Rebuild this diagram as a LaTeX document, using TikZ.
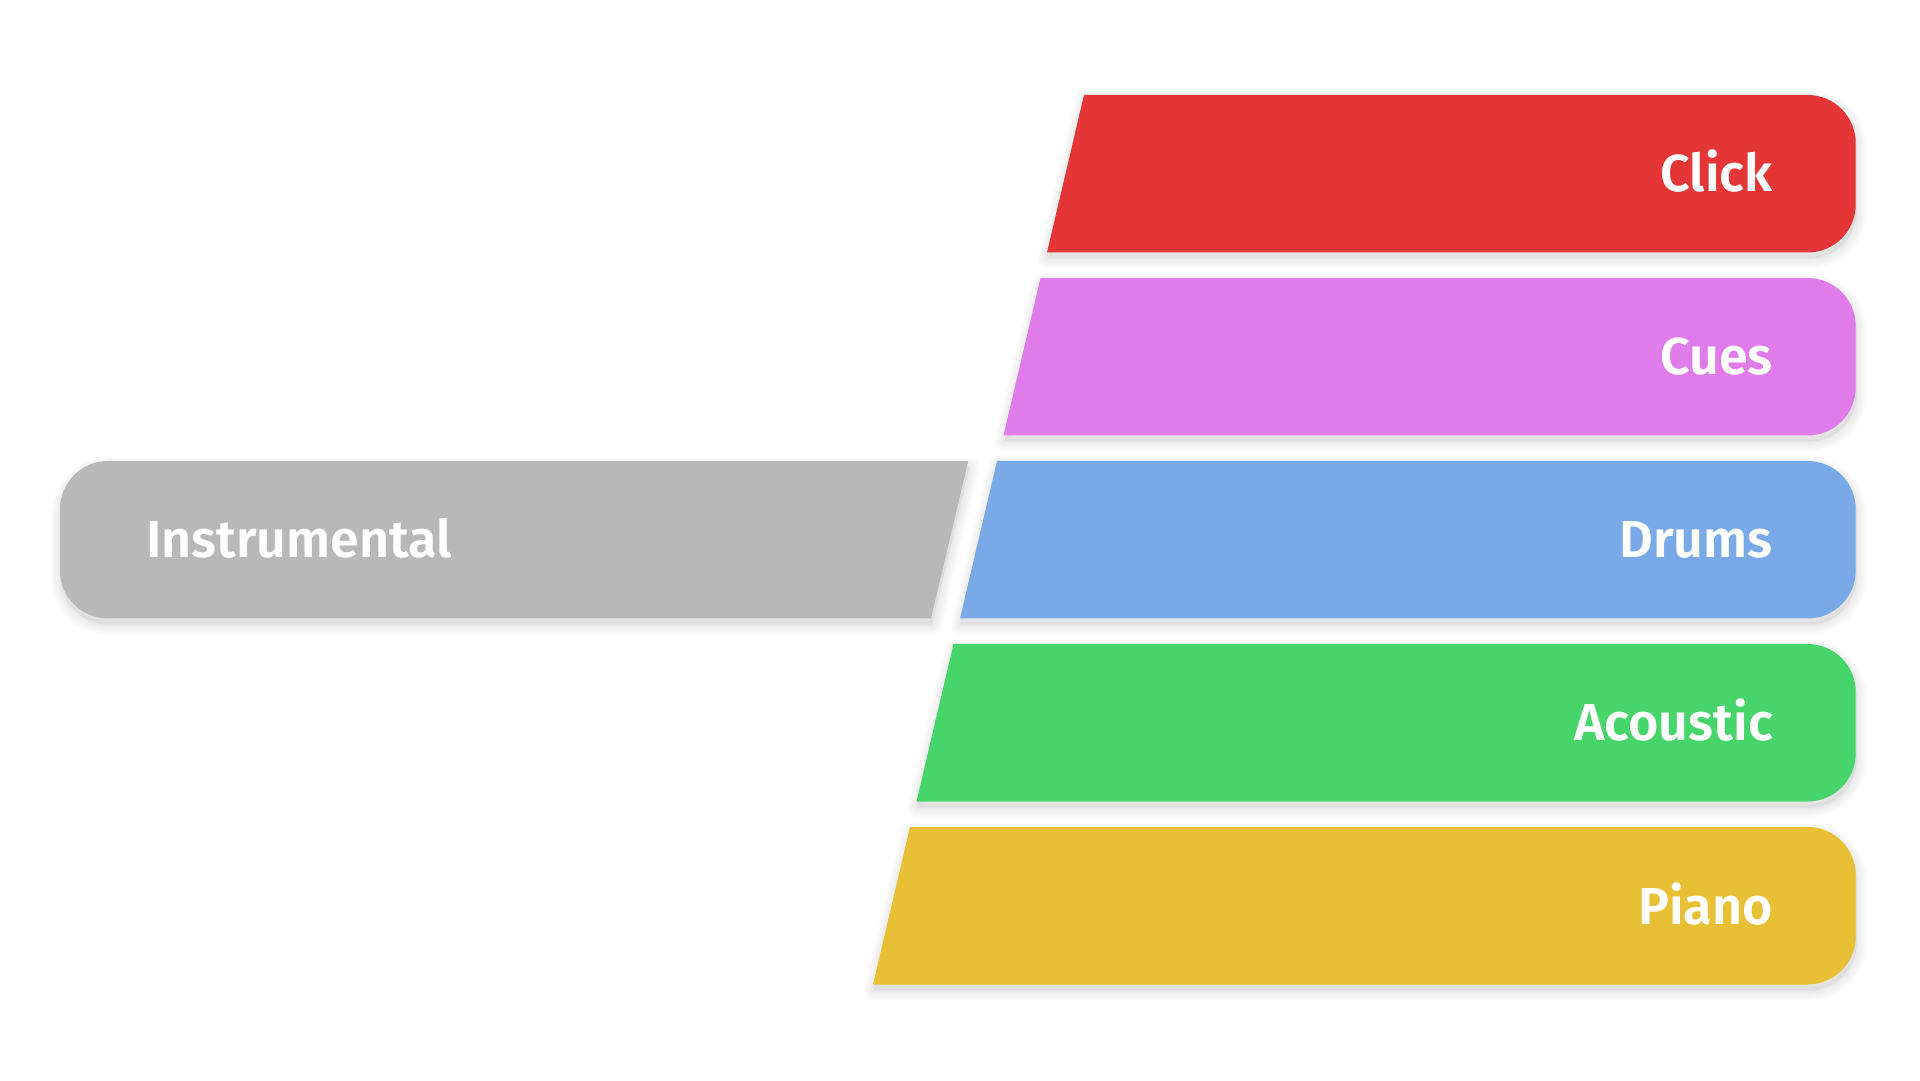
\documentclass[tikz,border=0pt]{standalone}
\usepackage{fontspec}
\newfontfamily\labfont{Fira Sans SemiBold}
\definecolor{cclick}{HTML}{E43636}
\definecolor{ccues}{HTML}{E07BEA}
\definecolor{cdrums}{HTML}{79AAE7}
\definecolor{cacoustic}{HTML}{47D56B}
\definecolor{cpiano}{HTML}{E8C035}
\definecolor{cinstr}{HTML}{B8B8B8}
\tikzset{
  shadowlayer/.style={black, opacity=0.009, line join=round},
  lbl/.style={text=white, font=\labfont\fontsize{52}{52}\selectfont, inner sep=0pt}
}
\newcommand\softshadow[1]{%
  \foreach \k in {1,...,11}{%
    \pgfmathsetmacro\lw{2*\k}%
    \draw[shadowlayer, line width=\lw pt, shift={(1,-6)}] #1;%
  }%
  \fill[black, opacity=0.05, shift={(1,-6)}] #1;%
}
\begin{document}
\begin{tikzpicture}[x=1pt,y=1pt]
\useasboundingbox (0,0) rectangle (1920,1080);
\fill[white] (0,0) rectangle (1920,1080);
\foreach \i/\col/\lab/\nm in {0/cclick/Click/click,1/ccues/Cues/cues,2/cdrums/Drums/drums,3/cacoustic/Acoustic/acoustic,4/cpiano/Piano/piano}{
  \pgfmathsetmacro\tp{985-183*\i}
  \pgfmathsetmacro\bt{\tp-157.5}
  \pgfmathsetmacro\xt{1084-43.5*\i}
  \pgfmathsetmacro\xb{\xt-37}
  \softshadow{(\xt,\tp) -- (1807.7,\tp) arc[start angle=90,end angle=0,radius=48] -- (1855.7,\bt+48) arc[start angle=0,end angle=-90,radius=48] -- (\xb,\bt) -- cycle}
}
\softshadow{(968.3,619) -- (108,619) arc[start angle=90,end angle=180,radius=48] -- (60,509.5) arc[start angle=180,end angle=270,radius=48] -- (931,461.5) -- cycle}
\foreach \i/\col/\lab/\nm in {0/cclick/Click/click,1/ccues/Cues/cues,2/cdrums/Drums/drums,3/cacoustic/Acoustic/acoustic,4/cpiano/Piano/piano}{
  \pgfmathsetmacro\tp{985-183*\i}
  \pgfmathsetmacro\bt{\tp-157.5}
  \pgfmathsetmacro\xt{1084-43.5*\i}
  \pgfmathsetmacro\xb{\xt-37}
  \fill[\col] (\xt,\tp) -- (1807.7,\tp) arc[start angle=90,end angle=0,radius=48] -- (1855.7,\bt+48) arc[start angle=0,end angle=-90,radius=48] -- (\xb,\bt) -- cycle;
  \node[lbl, anchor=base east] (\nm) at (1773,\tp-97) {\lab};
}
% Instrumental band
\fill[cinstr] (968.3,619) -- (108,619) arc[start angle=90,end angle=180,radius=48] -- (60,509.5) arc[start angle=180,end angle=270,radius=48] -- (931,461.5) -- cycle;
\node[lbl, anchor=base west] (instr) at (146,522) {Instrumental};
\end{tikzpicture}
\end{document}
